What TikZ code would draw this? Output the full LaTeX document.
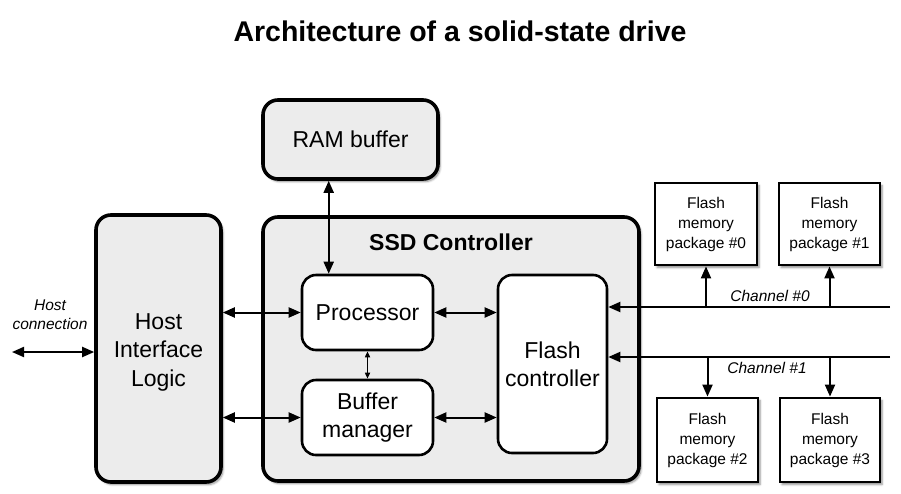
\documentclass[tikz,border=0pt]{standalone}
\usepackage{fontspec}
\setmainfont{Liberation Sans}
\usetikzlibrary{arrows.meta,shadows.blur}
\definecolor{boxgray}{RGB}{236,236,236}
\tikzset{
  block/.style={draw=black, fill=boxgray, line width=3.6pt, rounded corners=15pt,
    blur shadow={shadow xshift=2pt, shadow yshift=-2.5pt, shadow blur steps=6, shadow opacity=45},
    align=center, font=\fontsize{23}{28.5}\selectfont, inner sep=0pt},
  blocktext/.style={align=center, font=\fontsize{23}{28.5}\selectfont, inner sep=0pt},
  unit/.style={draw=black, fill=white, line width=2.6pt, rounded corners=14pt,
    align=center, font=\fontsize{23}{28}\selectfont, inner sep=0pt},
  package/.style={draw=black, fill=white, line width=2.8pt,
    blur shadow={shadow xshift=2pt, shadow yshift=-2.5pt, shadow blur steps=5, shadow opacity=45},
    align=center, font=\fontsize{15.5}{20}\selectfont, inner sep=0pt},
  link/.style={line width=2pt, {Triangle[length=12pt,width=10pt]}-{Triangle[length=12pt,width=10pt]}},
  smalllink/.style={line width=1.6pt, {Triangle[length=6pt,width=5pt]}-{Triangle[length=6pt,width=5pt]}},
  into/.style={line width=2pt, -{Triangle[length=12pt,width=10pt]}},
  tag/.style={font=\itshape\fontsize{15.5}{19}\selectfont, align=center, inner sep=0pt}
}
\begin{document}
\begin{tikzpicture}[x=1pt,y=-1pt]
  \useasboundingbox (0,0) rectangle (901,493);

  % title
  \node[font=\bfseries\fontsize{28.5}{32}\selectfont] (title) at (460,31) {Architecture of a solid-state drive};

  % main blocks
  \node[block, minimum width=125pt, minimum height=267pt] (hil) at (158.5,348.5) {};
  \node[blocktext] (hiltext) at (158.5,352) {Host\\Interface\\Logic};
  \node[block, minimum width=376pt, minimum height=264pt] (ssd) at (451,349) {};
  \node[font=\bfseries\fontsize{23}{26}\selectfont] (ssdlabel) at (451,242) {SSD Controller};
  \node[block, minimum width=175pt, minimum height=79pt] (ram) at (350.5,139.5) {RAM buffer};

  % controller units
  \node[unit, minimum width=131pt, minimum height=75pt] (proc) at (367.5,312.5) {Processor};
  \node[unit, minimum width=131pt, minimum height=75pt] (buf) at (367.5,417.5) {Buffer\\manager};
  \node[unit, minimum width=109pt, minimum height=178pt] (fc) at (552.5,364) {Flash\\controller};

  % flash packages
  \node[package, minimum width=102pt, minimum height=82pt] (p0) at (706,224) {Flash\\memory\\package \#0};
  \node[package, minimum width=101pt, minimum height=82pt] (p1) at (829.5,224) {Flash\\memory\\package \#1};
  \node[package, minimum width=101pt, minimum height=84pt] (p2) at (707.5,440) {Flash\\memory\\package \#2};
  \node[package, minimum width=100pt, minimum height=84pt] (p3) at (830,440) {Flash\\memory\\package \#3};

  % host connection
  \coordinate (host) at (12,352);
  \node[tag] (hostlabel) at (50,314.5) {Host\\connection};
  \draw[link] (host) -- (host -| hil.west);

  % internal links
  \draw[link] (hil.east |- proc.west) -- (proc.west);
  \draw[link] (hil.east |- buf.west) -- (buf.west);
  \draw[link] (proc.east) -- (proc.east -| fc.west);
  \draw[link] (buf.east) -- (buf.east -| fc.west);
  \draw[smalllink] (proc.south) -- (buf.north);
  \coordinate (rp) at ([xshift=28pt]proc.north west);
  \draw[link] (rp |- ram.south) -- (rp);

  % channels
  \coordinate (ch0) at (890,307);
  \coordinate (ch1) at (890,357);
  \draw[into] (ch0) -- (ch0 -| fc.east);
  \draw[into] (ch1) -- (ch1 -| fc.east);
  \draw[into] (p0.south |- ch0) -- (p0.south);
  \draw[into] (p1.south |- ch0) -- (p1.south);
  \draw[into] (p2.north |- ch1) -- (p2.north);
  \draw[into] (p3.north |- ch1) -- (p3.north);
  \node[tag] (ch0label) at (770,296) {Channel \#0};
  \node[tag] (ch1label) at (767,368) {Channel \#1};
\end{tikzpicture}
\end{document}
